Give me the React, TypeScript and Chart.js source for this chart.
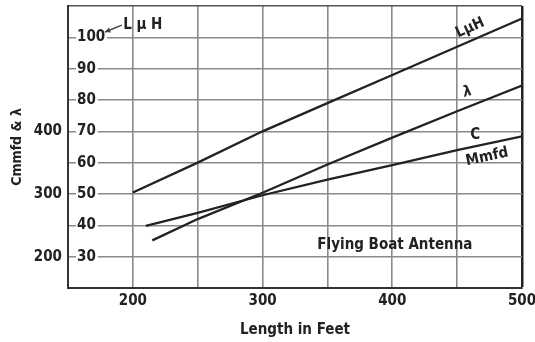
import React, { useEffect, useRef } from 'react';
import { Chart, registerables } from 'chart.js';

Chart.register(...registerables);

// ---- data ----
const lengthL = [200, 250, 300, 350, 400, 450, 500];
const inductanceL = [50.5, 60, 70, 79, 88, 97, 106];

const lengthLambda = [215, 250, 300, 350, 400, 450, 500];
const wavelength = [226, 260, 302, 347, 390, 432, 473];

const lengthC = [210, 250, 300, 350, 400, 450, 500];
const capacitance = [249, 270, 298, 323, 346, 370, 392];

const xTickLabels = [200, 300, 400, 500];
const innerTickLabels = [30, 40, 50, 60, 70, 80, 90, 100];
const outerTickLabels = [200, 300, 400];

const FONT = '"DejaVu Sans Condensed", "Liberation Sans Narrow", "DejaVu Sans", sans-serif';
const INK = '#222';
const GRID = '#8a8a8a';

type Note = { text: string; x: number; y: number; rot: number; size: number; italic?: boolean; align?: CanvasTextAlign };
const notes: Note[] = [
  { text: 'LµH', x: 460, y: 103, rot: -24, size: 15 },
  { text: 'λ', x: 458, y: 82.6, rot: -15, size: 15, italic: true },
  { text: 'C', x: 464, y: 68.8, rot: 0, size: 15 },
  { text: 'Mmfd', x: 473, y: 61.8, rot: -12, size: 15 },
  { text: 'Flying Boat Antenna', x: 402, y: 33.7, rot: 0, size: 15 },
  { text: 'L µ H', x: 192.5, y: 104, rot: 0, size: 15, align: 'left' },
];
const arrowFrom = { x: 191.5, y: 103.9 };
const arrowTo = { x: 178.5, y: 101.7 };

const notesPlugin = {
  id: 'notes',
  afterDatasetsDraw(chart: any) {
    const { ctx } = chart;
    const xs = chart.scales.x;
    const ys = chart.scales.y;
    ctx.save();
    ctx.fillStyle = INK;
    ctx.textBaseline = 'middle';
    for (const n of notes) {
      ctx.save();
      ctx.translate(xs.getPixelForValue(n.x), ys.getPixelForValue(n.y));
      ctx.rotate((n.rot * Math.PI) / 180);
      ctx.font = `${n.italic ? 'italic ' : ''}bold ${n.size}px ${FONT}`;
      ctx.textAlign = n.align || 'center';
      ctx.fillText(n.text, 0, 0);
      ctx.restore();
    }
    // arrow
    const x1 = xs.getPixelForValue(arrowFrom.x);
    const y1 = ys.getPixelForValue(arrowFrom.y);
    const x2 = xs.getPixelForValue(arrowTo.x);
    const y2 = ys.getPixelForValue(arrowTo.y);
    ctx.strokeStyle = '#444';
    ctx.lineWidth = 1.5;
    ctx.beginPath();
    ctx.moveTo(x1, y1);
    ctx.lineTo(x2, y2);
    ctx.stroke();
    const a = Math.atan2(y2 - y1, x2 - x1);
    ctx.beginPath();
    ctx.moveTo(x2, y2);
    ctx.lineTo(x2 - 6 * Math.cos(a - 0.45), y2 - 6 * Math.sin(a - 0.45));
    ctx.lineTo(x2 - 6 * Math.cos(a + 0.45), y2 - 6 * Math.sin(a + 0.45));
    ctx.closePath();
    ctx.fillStyle = '#444';
    ctx.fill();
    ctx.restore();
  },
};

const toPoints = (xs: number[], ys: number[]) => xs.map((x, i) => ({ x, y: ys[i] }));

export default function App() {
  const ref = useRef<HTMLCanvasElement | null>(null);

  useEffect(() => {
    if (!ref.current) return;
    const lineStyle = {
      borderColor: INK,
      borderWidth: 2.3,
      pointRadius: 0,
      tension: 0,
      fill: false,
    };
    const tickFont = { family: FONT, size: 15, weight: 'bold' };
    const chart = new Chart(ref.current, {
      type: 'line',
      data: {
        datasets: [
          { label: 'L µH', data: toPoints(lengthL, inductanceL), yAxisID: 'y', ...lineStyle },
          { label: 'λ', data: toPoints(lengthLambda, wavelength), yAxisID: 'y2', ...lineStyle },
          { label: 'C Mmfd', data: toPoints(lengthC, capacitance), yAxisID: 'y2', ...lineStyle },
        ],
      },
      options: {
        animation: false,
        responsive: false,
        events: [],
        layout: { padding: { top: 6, right: 13, left: 0, bottom: 0 } },
        plugins: { legend: { display: false }, tooltip: { enabled: false } },
        scales: {
          x: {
            type: 'linear',
            min: 150,
            max: 500,
            ticks: {
              stepSize: 50,
              autoSkip: false,
              maxRotation: 0,
              padding: 4,
              color: INK,
              font: tickFont,
              callback: (v: any) => (xTickLabels.includes(Number(v)) ? String(v) : ''),
            },
            grid: {
              drawTicks: false,
              color: (c: any) => (c.tick && c.tick.value === 500 ? INK : GRID),
              lineWidth: (c: any) => (c.tick && c.tick.value === 500 ? 2.5 : 1.6),
            },
            border: { color: '#333', width: 2 },
            title: {
              display: true,
              text: 'Length in Feet',
              color: INK,
              font: tickFont,
              padding: { top: 0, bottom: 3 },
            },
            afterFit: (s: any) => {
              s.height = 54;
              s.paddingLeft = 0;
              s.paddingRight = 0;
            },
          },
          y: {
            type: 'linear',
            position: 'left',
            weight: 0,
            min: 20,
            max: 110,
            ticks: {
              stepSize: 10,
              mirror: true,
              padding: 9,
              color: INK,
              font: tickFont,
              callback: (v: any) => (innerTickLabels.includes(Number(v)) ? String(v) : ''),
              showLabelBackdrop: true,
              backdropColor: (c: any) =>
                c.tick && innerTickLabels.includes(c.tick.value) ? '#ffffff' : 'rgba(0,0,0,0)',
              backdropPadding: { top: -2, bottom: -2, left: 1, right: 2 },
            },
            grid: {
              drawTicks: false,
              color: (c: any) => (c.tick && c.tick.value === 110 ? '#555' : GRID),
              lineWidth: 1.6,
            },
            border: { color: '#333', width: 2 },
            afterFit: (s: any) => {
              s.width = 0;
              s.paddingTop = 0;
              s.paddingBottom = 0;
            },
          },
          y2: {
            type: 'linear',
            position: 'left',
            weight: 1,
            min: 150,
            max: 600,
            afterBuildTicks: (s: any) => {
              s.ticks = outerTickLabels.map((v) => ({ value: v }));
            },
            ticks: {
              padding: 6,
              color: INK,
              font: tickFont,
            },
            grid: { display: false, drawTicks: false },
            border: { display: false },
            title: {
              display: true,
              text: 'Cmmfd & λ',
              color: INK,
              font: { family: FONT, size: 14, weight: 'bold' },
              padding: { top: 9, bottom: 0 },
            },
            afterFit: (s: any) => {
              s.width = 68;
              s.paddingTop = 0;
              s.paddingBottom = 0;
            },
          },
        },
      } as any,
      plugins: [notesPlugin],
    });
    return () => chart.destroy();
  }, []);

  return (
    <div style={{ position: 'fixed', left: 0, top: 0, width: 535, height: 342, background: '#fff' }}>
      <canvas ref={ref} width={535} height={342} />
    </div>
  );
}
